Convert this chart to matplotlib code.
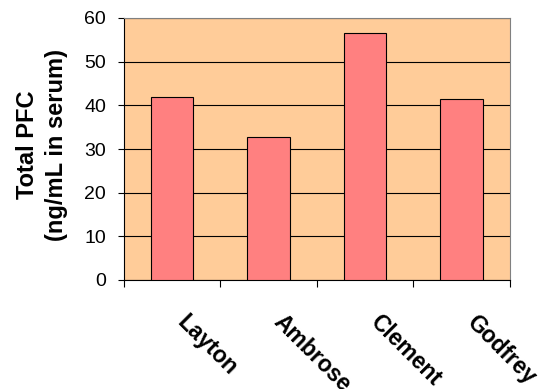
import matplotlib.pyplot as plt
import numpy as np

plt.rcParams['font.family'] = ['Liberation Sans', 'DejaVu Sans']

sites = ["Layton", "Ambrose", "Clement", "Godfrey"]
total_pfc = [41.8, 32.7, 56.6, 41.5]
y_ticks = [0, 10, 20, 30, 40, 50, 60]

fig = plt.figure(figsize=(5.54, 3.89), dpi=100)
ax = fig.add_axes([123.5 / 554, 1 - 280 / 389, 386.5 / 554, 262 / 389])
ax.set_facecolor("#FFCC99")

x = np.arange(len(sites))
ax.bar(x, total_pfc, width=0.44, color="#FF8080", edgecolor="black",
       linewidth=0.8, zorder=3)

ax.set_xlim(-0.5, len(sites) - 0.5)
ax.set_ylim(0, 60)
ax.set_yticks(y_ticks)
ax.yaxis.grid(True, color="black", linewidth=0.8, zorder=1)
ax.set_axisbelow(True)

# category boundaries carry the x ticks; names are placed at the bar centres
ax.set_xticks(np.arange(len(sites) + 1) - 0.5)
ax.set_xticklabels([])
ax.tick_params(axis="x", direction="out", length=5, width=0.8, colors="black")
ax.tick_params(axis="y", direction="out", length=4.5, width=0.8, labelsize=14, pad=8)
for i, name in enumerate(sites):
    ax.annotate(name, xy=(i, 0), xycoords=("data", "axes fraction"),
                xytext=(12, -22), textcoords="offset points",
                rotation=-45, rotation_mode="anchor", ha="left", va="top",
                fontsize=16.5, fontweight="bold", annotation_clip=False)

for side in ("top", "right"):
    ax.spines[side].set_color("#808080")
    ax.spines[side].set_linewidth(0.8)
for side in ("left", "bottom"):
    ax.spines[side].set_color("black")
    ax.spines[side].set_linewidth(0.8)

fig.text(42 / 554, 1 - 145 / 389, "Total PFC\n(ng/mL in serum)", rotation=90,
         ha="center", va="center", multialignment="center",
         fontsize=17, fontweight="bold", linespacing=1.3)

fig.savefig("out.png", dpi=100)
